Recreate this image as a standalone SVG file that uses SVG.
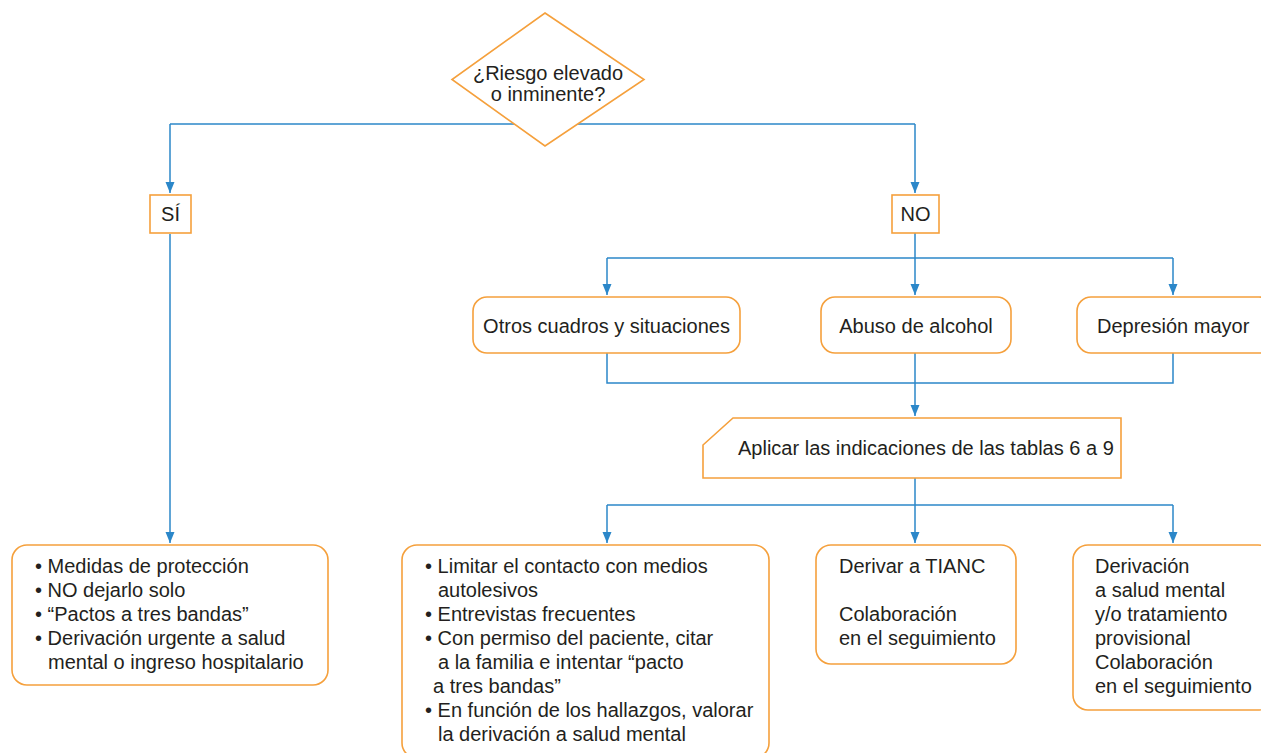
<svg xmlns="http://www.w3.org/2000/svg" width="1261" height="753" viewBox="0 0 1261 753">
<style>
.box{fill:#fff;stroke:#F5A03C;stroke-width:1.6}
.t{font-family:"Liberation Sans",Arial,Helvetica,sans-serif;font-size:20px;fill:#231f20}
.c{text-anchor:middle}
.ln{fill:none;stroke:#2B87C9;stroke-width:1.5}
</style>
<defs>
<marker id="ah" markerUnits="userSpaceOnUse" markerWidth="12" markerHeight="12" viewBox="0 0 12 12" refX="11" refY="6" orient="auto">
<path d="M0,1.5 L11,6 L0,10.5 Z" fill="#2B87C9"/>
</marker>
</defs>
<rect width="1261" height="753" fill="#fff"/>
<g id="connectors">
<path class="ln" d="M170,124 H915"/>
<path class="ln" d="M170,124 V193" marker-end="url(#ah)"/>
<path class="ln" d="M915,124 V193" marker-end="url(#ah)"/>
<path class="ln" d="M170,234 V543" marker-end="url(#ah)"/>
<path class="ln" d="M915,233 V258"/>
<path class="ln" d="M607,258 H1173"/>
<path class="ln" d="M607,258 V295" marker-end="url(#ah)"/>
<path class="ln" d="M915,258 V295" marker-end="url(#ah)"/>
<path class="ln" d="M1173,258 V295" marker-end="url(#ah)"/>
<path class="ln" d="M607,353 V383 H1173 V353"/>
<path class="ln" d="M915,353 V416" marker-end="url(#ah)"/>
<path class="ln" d="M915,478 V505"/>
<path class="ln" d="M607,505 H1173"/>
<path class="ln" d="M607,505 V543" marker-end="url(#ah)"/>
<path class="ln" d="M915,505 V543" marker-end="url(#ah)"/>
<path class="ln" d="M1173,505 V543" marker-end="url(#ah)"/>
</g>
<g id="decision">
<polygon class="box" points="545,13 644,79.5 545,146 452,79.5"/>
<text class="t c" x="548" y="80">¿Riesgo elevado</text>
<text class="t c" x="548" y="101">o inminente?</text>
</g>
<g id="si">
<rect class="box" x="150" y="195" width="41" height="38"/>
<text class="t c" x="170.5" y="221">SÍ</text>
</g>
<g id="no">
<rect class="box" x="892" y="195" width="47" height="38"/>
<text class="t c" x="915.5" y="221">NO</text>
</g>
<g id="otros">
<rect class="box" x="473" y="297" width="267" height="56" rx="14"/>
<text class="t c" x="606.5" y="333">Otros cuadros y situaciones</text>
</g>
<g id="abuso">
<rect class="box" x="821" y="297" width="190" height="56" rx="14"/>
<text class="t c" x="916" y="333">Abuso de alcohol</text>
</g>
<g id="depresion">
<rect class="box" x="1077" y="297" width="196" height="56" rx="14"/>
<text class="t" x="1097" y="333">Depresión mayor</text>
</g>
<g id="aplicar">
<path class="box" d="M733,418 H1121 V478 H703 V445 Z"/>
<text class="t" x="738" y="455">Aplicar las indicaciones de las tablas 6 a 9</text>
</g>
<g id="proteccion">
<rect class="box" x="12" y="545" width="316" height="140" rx="15"/>
<text class="t" x="35" y="573">• Medidas de protección</text>
<text class="t" x="35" y="597">• NO dejarlo solo</text>
<text class="t" x="35" y="621">• “Pactos a tres bandas”</text>
<text class="t" x="35" y="645">• Derivación urgente a salud</text>
<text class="t" x="48" y="669">mental o ingreso hospitalario</text>
</g>
<g id="limitar">
<rect class="box" x="402" y="545" width="367" height="213" rx="15"/>
<text class="t" x="425" y="573">• Limitar el contacto con medios</text>
<text class="t" x="438" y="597">autolesivos</text>
<text class="t" x="425" y="621">• Entrevistas frecuentes</text>
<text class="t" x="425" y="645">• Con permiso del paciente, citar</text>
<text class="t" x="438" y="669">a la familia e intentar “pacto</text>
<text class="t" x="433" y="693">a tres bandas”</text>
<text class="t" x="425" y="717">• En función de los hallazgos, valorar</text>
<text class="t" x="438" y="741">la derivación a salud mental</text>
</g>
<g id="tianc">
<rect class="box" x="816" y="545" width="200" height="119" rx="15"/>
<text class="t" x="839" y="573">Derivar a TIANC</text>
<text class="t" x="839" y="621">Colaboración</text>
<text class="t" x="839" y="645">en el seguimiento</text>
</g>
<g id="derivacion">
<rect class="box" x="1073" y="545" width="200" height="165" rx="15"/>
<text class="t" x="1095" y="573">Derivación</text>
<text class="t" x="1095" y="597">a salud mental</text>
<text class="t" x="1095" y="621">y/o tratamiento</text>
<text class="t" x="1095" y="645">provisional</text>
<text class="t" x="1095" y="669">Colaboración</text>
<text class="t" x="1095" y="693">en el seguimiento</text>
</g>
</svg>
